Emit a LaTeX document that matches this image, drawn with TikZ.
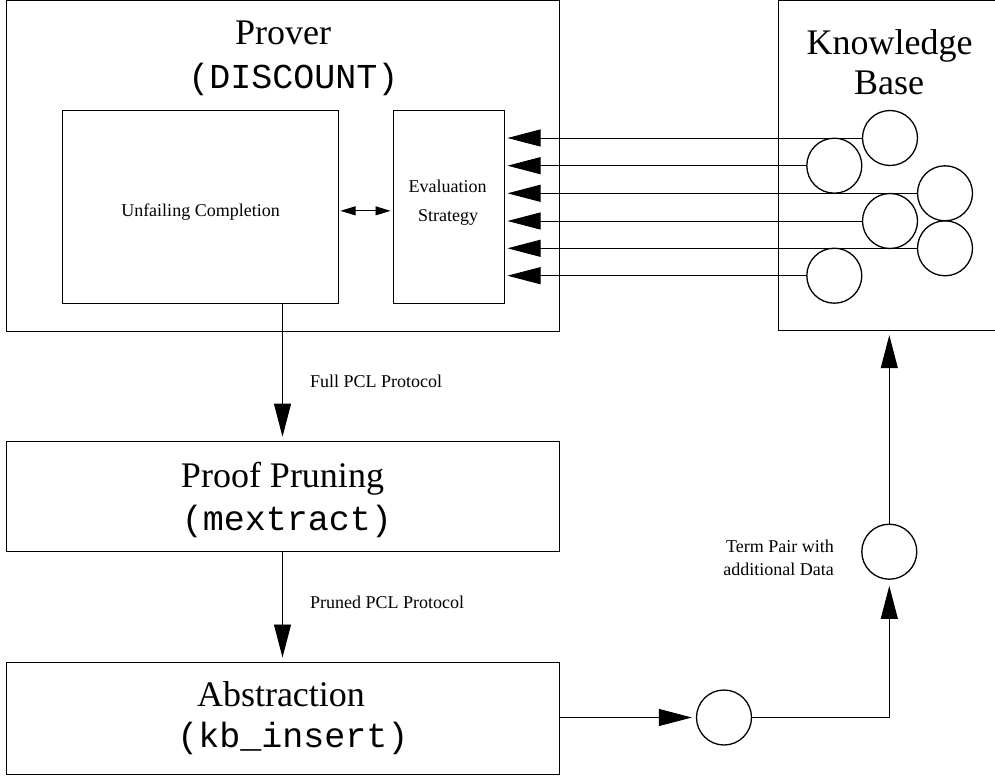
\documentclass[tikz,border=0pt]{standalone}
\usepackage{fontspec}
\setmainfont{Liberation Serif}
\setmonofont{Liberation Mono}
\usetikzlibrary{arrows.meta}
\begin{document}
\begin{tikzpicture}[x=1pt,y=-1pt]
\tikzset{
 box/.style={draw, line width=1pt, inner sep=0pt},
 kcirc/.style={draw, circle, line width=1.3pt, minimum size=55pt, inner sep=0pt},
 bigtxt/.style={font=\fontsize{36}{40}\selectfont, inner sep=0pt, anchor=base},
 monotxt/.style={font=\fontsize{35}{40}\selectfont\ttfamily, inner sep=0pt, anchor=base},
 smalltxt/.style={font=\fontsize{18}{20}\selectfont, inner sep=0pt, anchor=base},
 conn/.style={line width=0.9pt, -{Triangle[length=33pt,width=17pt]}},
 dconn/.style={line width=0.9pt, {Triangle[length=15pt,width=9pt]}-{Triangle[length=15pt,width=9pt]}},
}
\useasboundingbox (0,0) rectangle (995,778);

% boxes
\node[box, minimum width=553pt, minimum height=330pt] (prover) at (282.5,166) {};
\node[box, minimum width=276pt, minimum height=192.3pt] (uc) at (200,206.85) {};
\node[box, minimum width=111pt, minimum height=192.3pt] (es) at (448.5,206.85) {};
\node[box, minimum width=553pt, minimum height=110pt] (pp) at (282.5,496.7) {};
\node[box, minimum width=553pt, minimum height=112pt] (ab) at (282.5,718) {};
\node[inner sep=0pt, minimum width=216pt, minimum height=329pt] (kb) at (887,165.5) {};
\draw[line width=1pt] (kb.north east) -- (kb.north west) -- (kb.south west) -- (kb.south east);

% texts
\node[bigtxt] (tprover) at (283,44.5) {Prover};
\node[monotxt] (tdisc) at (293.5,88.5) {(DISCOUNT)};
\node[smalltxt] (tuc) at (200.5,216) {Unfailing Completion};
\node[smalltxt] (tev) at (447.5,193) {Evaluation};
\node[smalltxt] (tst) at (448,221) {Strategy};
\node[bigtxt] (tpp) at (282.5,487) {Proof Pruning};
\node[monotxt] (tmex) at (287,530) {(mextract)};
\node[bigtxt] (tab) at (281,706) {Abstraction};
\node[monotxt] (tkbi) at (293,747) {(kb\_insert)};
\node[bigtxt] (tkn) at (889.5,55) {Knowledge};
\node[bigtxt] (tba) at (889,95) {Base};
\node[smalltxt, anchor=base west] (lfull) at (310,387) {Full PCL Protocol};
\node[smalltxt, anchor=base west] (lpruned) at (310,608) {Pruned PCL Protocol};
\node[smalltxt, anchor=base east] (lterm1) at (834,552) {Term Pair with};
\node[smalltxt, anchor=base east] (lterm2) at (834,575) {additional Data};

% knowledge base circles
\node[kcirc] (k1) at (890,138) {};
\node[kcirc] (k2) at (834.3,165.7) {};
\node[kcirc] (k3) at (945,193.3) {};
\node[kcirc] (k4) at (890,221) {};
\node[kcirc] (k5) at (945,248.3) {};
\node[kcirc] (k6) at (834.3,275.7) {};

% term pair circles
\node[kcirc] (t1) at (724,717.5) {};
\node[kcirc] (t2) at (889.3,551.7) {};

% connectors
\foreach \k in {k1,k2,k3,k4,k5,k6}
  \draw[conn, shorten >=3pt] (\k.west) -- (\k.west -| es.east);
\draw[dconn, shorten <=2pt, shorten >=2pt] ([yshift=-4pt]uc.east) -- ([yshift=-4pt]es.west);
\draw[conn, shorten >=4.5pt] (pp.north |- uc.south) -- (pp.north);
\draw[conn, shorten >=4pt] (pp.south) -- (ab.north);
\draw[conn, shorten >=4pt] (ab.east |- t1.west) -- (t1.west);
\draw[conn, shorten >=6pt] (t1.east) -| (t2.south);
\draw[conn, shorten >=5pt] (t2.north) -- (t2.north |- kb.south);
\end{tikzpicture}
\end{document}
